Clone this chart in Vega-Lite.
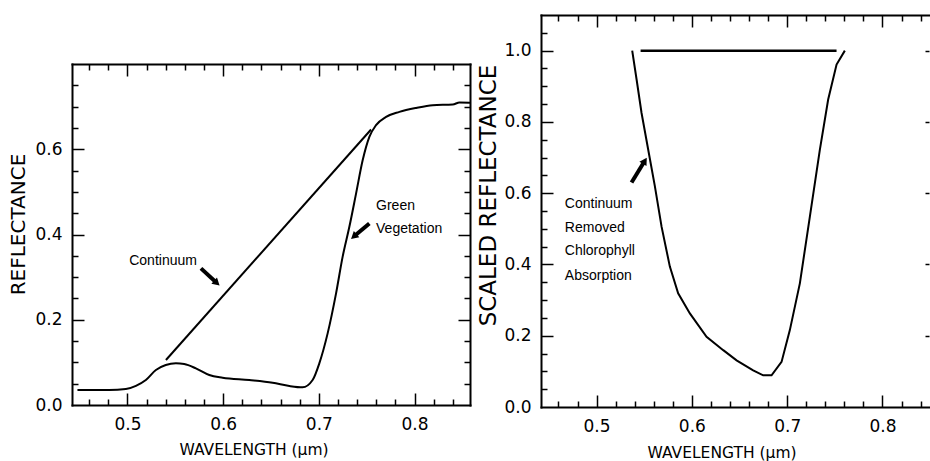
{
  "$schema": "https://vega.github.io/schema/vega-lite/v6.json",
  "background": "white",
  "padding": {"left": 8, "top": 14, "right": 0, "bottom": 0},
  "spacing": 3,
  "datasets": {
    "veg": [
      {"w":0.4477,"r":0.035},{"w":0.4809,"r":0.035},{"w":0.4983,"r":0.0375},{"w":0.5088,"r":0.045},{"w":0.5192,"r":0.0586},{"w":0.5297,"r":0.082},{"w":0.540,"r":0.0938},{"w":0.5506,"r":0.0977},{"w":0.5593,"r":0.096},{"w":0.5715,"r":0.086},{"w":0.5855,"r":0.0703},{"w":0.5994,"r":0.064},{"w":0.6273,"r":0.0586},{"w":0.6517,"r":0.0523},{"w":0.6692,"r":0.0445},{"w":0.683,"r":0.0414},{"w":0.6935,"r":0.0586},{"w":0.7005,"r":0.0977},{"w":0.7092,"r":0.168},{"w":0.718,"r":0.262},{"w":0.7249,"r":0.348},{"w":0.7319,"r":0.418},{"w":0.7389,"r":0.496},{"w":0.7458,"r":0.574},{"w":0.7528,"r":0.629},{"w":0.7598,"r":0.6565},{"w":0.7703,"r":0.676},{"w":0.7842,"r":0.6877},{"w":0.8017,"r":0.697},{"w":0.819,"r":0.7034},{"w":0.840,"r":0.705},{"w":0.847,"r":0.7097},{"w":0.858,"r":0.709}
    ],
    "cont": [{"w":0.5402,"r":0.1055},{"w":0.7546,"r":0.6464}],
    "leftText": [
      {"w":0.5018,"r":0.338,"t":"Continuum"},
      {"w":0.7598,"r":0.4666,"t":"Green"},
      {"w":0.7598,"r":0.4127,"t":"Vegetation"}
    ],
    "leftArrows": [
      {"w":0.5768,"r":0.3205,"w2":0.5925,"r2":0.288},
      {"w":0.7528,"r":0.426,"w2":0.7375,"r2":0.397}
    ],
    "leftHead1": [{"w":0.5925,"r":0.288}],
    "leftHead2": [{"w":0.7375,"r":0.397}],
    "abs": [
      {"w":0.5374,"r":1.0},{"w":0.542,"r":0.919},{"w":0.5472,"r":0.825},{"w":0.5542,"r":0.722},{"w":0.5612,"r":0.619},{"w":0.5682,"r":0.506},{"w":0.5769,"r":0.394},{"w":0.5856,"r":0.319},{"w":0.5979,"r":0.2627},{"w":0.6154,"r":0.197},{"w":0.6329,"r":0.1595},{"w":0.6469,"r":0.131},{"w":0.6643,"r":0.103},{"w":0.6748,"r":0.089},{"w":0.6836,"r":0.089},{"w":0.6941,"r":0.1266},{"w":0.7028,"r":0.2158},{"w":0.7133,"r":0.347},{"w":0.7238,"r":0.5345},{"w":0.7343,"r":0.722},{"w":0.743,"r":0.8627},{"w":0.7518,"r":0.961},{"w":0.7605,"r":1.0}
    ],
    "cont2": [{"w":0.5462,"r":1.0},{"w":0.7518,"r":1.0}],
    "rightText": [
      {"w":0.4667,"r":0.570,"t":"Continuum"},
      {"w":0.4667,"r":0.501,"t":"Removed"},
      {"w":0.4667,"r":0.4366,"t":"Chlorophyll"},
      {"w":0.4667,"r":0.369,"t":"Absorption"}
    ],
    "rightArrow": [{"w":0.5367,"r":0.630,"w2":0.5500,"r2":0.688}],
    "rightHead": [{"w":0.5500,"r":0.688}]
  },
  "config": {
    "view": {"stroke": null},
    "axis": {
      "grid": false,
      "domainColor": "black",
      "domainWidth": 2,
      "domainCap": "square",
      "tickColor": "black",
      "tickWidth": 1.5,
      "labelColor": "black",
      "labelFont": "DejaVu Sans",
      "labelFontSize": 17,
      "titleColor": "black",
      "titleFont": "DejaVu Sans",
      "titleFontWeight": "normal"
    }
  },
  "hconcat": [
    {
      "spacing": 0,
      "vconcat": [
        {
          "width": 398,
          "height": 48,
          "data": {"values": []},
          "mark": "point"
        },
        {
          "width": 398,
          "height": 341,
          "resolve": {"axis": {"x": "independent", "y": "independent"}},
          "layer": [
            {
              "data": {"name": "veg"},
              "mark": {"type": "line", "color": "black", "strokeWidth": 2, "interpolate": "monotone"},
              "encoding": {
                "x": {"field": "w", "type": "quantitative", "scale": {"domain": [0.442, 0.858], "nice": false, "zero": false},
                  "axis": {"orient": "bottom", "values": [0.5, 0.6, 0.7, 0.8], "format": ".1f", "ticks": false, "domain": true, "labelPadding": 11,
                    "title": "WAVELENGTH (μm)", "titleX": 181.5, "titleY": 37, "titleAlign": "center", "titleBaseline": "top", "titleFontSize": 15.5}},
                "y": {"field": "r", "type": "quantitative", "scale": {"domain": [0, 0.8], "nice": false, "zero": false},
                  "axis": {"orient": "left", "values": [0, 0.2, 0.4, 0.6], "format": ".1f", "ticks": false, "domain": true, "labelPadding": 10,
                    "title": "REFLECTANCE", "titleX": -54, "titleY": 160, "titleAngle": -90, "titleAlign": "center", "titleBaseline": "middle", "titleFontSize": 20}}
              }
            },
            {
              "data": {"name": "cont"},
              "mark": {"type": "line", "color": "black", "strokeWidth": 2},
              "encoding": {
                "x": {"field": "w", "type": "quantitative", "scale": {"domain": [0.442, 0.858], "nice": false, "zero": false},
                  "axis": {"orient": "bottom", "values": [0.5, 0.6, 0.7, 0.8], "tickSize": -12, "labels": false, "domain": false, "title": null}},
                "y": {"field": "r", "type": "quantitative", "scale": {"domain": [0, 0.8], "nice": false, "zero": false},
                  "axis": {"orient": "left", "values": [0.2, 0.4, 0.6], "tickSize": -12, "labels": false, "domain": false, "title": null}}
              }
            },
            {
              "data": {"name": "leftText"},
              "mark": {"type": "text", "align": "left", "baseline": "middle", "font": "Liberation Sans", "fontSize": 14, "color": "black"},
              "encoding": {
                "x": {"field": "w", "type": "quantitative", "scale": {"domain": [0.442, 0.858], "nice": false, "zero": false},
                  "axis": {"orient": "bottom", "values": [0.46,0.48,0.52,0.54,0.56,0.58,0.62,0.64,0.66,0.68,0.72,0.74,0.76,0.78,0.82,0.84], "tickSize": -6, "labels": false, "domain": false, "title": null}},
                "y": {"field": "r", "type": "quantitative", "scale": {"domain": [0, 0.8], "nice": false, "zero": false},
                  "axis": {"orient": "left", "values": [0.05,0.1,0.15,0.25,0.3,0.35,0.45,0.5,0.55,0.65,0.7,0.75], "tickSize": -6, "labels": false, "domain": false, "title": null}},
                "text": {"field": "t"}
              }
            },
            {
              "data": {"name": "leftArrows"},
              "mark": {"type": "rule", "color": "black", "strokeWidth": 4},
              "encoding": {
                "x": {"field": "w", "type": "quantitative", "scale": {"domain": [0.442, 0.858], "nice": false, "zero": false},
                  "axis": {"orient": "top", "values": [0.5, 0.6, 0.7, 0.8], "tickSize": -12, "labels": false, "domain": true, "title": null}},
                "y": {"field": "r", "type": "quantitative", "scale": {"domain": [0, 0.8], "nice": false, "zero": false},
                  "axis": {"orient": "right", "values": [0.2, 0.4, 0.6], "tickSize": -12, "labels": false, "domain": true, "title": null}},
                "x2": {"field": "w2"},
                "y2": {"field": "r2"}
              }
            },
            {
              "data": {"name": "leftHead1"},
              "mark": {"type": "point", "shape": "triangle", "filled": true, "color": "black", "opacity": 1, "size": 70, "angle": 132},
              "encoding": {
                "x": {"field": "w", "type": "quantitative", "scale": {"domain": [0.442, 0.858], "nice": false, "zero": false},
                  "axis": {"orient": "top", "values": [0.46,0.48,0.52,0.54,0.56,0.58,0.62,0.64,0.66,0.68,0.72,0.74,0.76,0.78,0.82,0.84], "tickSize": -6, "labels": false, "domain": false, "title": null}},
                "y": {"field": "r", "type": "quantitative", "scale": {"domain": [0, 0.8], "nice": false, "zero": false},
                  "axis": {"orient": "right", "values": [0.05,0.1,0.15,0.25,0.3,0.35,0.45,0.5,0.55,0.65,0.7,0.75], "tickSize": -6, "labels": false, "domain": false, "title": null}}
              }
            },
            {
              "data": {"name": "leftHead2"},
              "mark": {"type": "point", "shape": "triangle", "filled": true, "color": "black", "opacity": 1, "size": 70, "angle": 229},
              "encoding": {
                "x": {"field": "w", "type": "quantitative", "scale": {"domain": [0.442, 0.858], "nice": false, "zero": false}, "axis": null},
                "y": {"field": "r", "type": "quantitative", "scale": {"domain": [0, 0.8], "nice": false, "zero": false}, "axis": null}
              }
            }
          ]
        }
      ]
    },
    {
      "width": 388,
      "height": 392,
      "resolve": {"axis": {"x": "independent", "y": "independent"}},
      "layer": [
        {
          "data": {"name": "abs"},
          "mark": {"type": "line", "color": "black", "strokeWidth": 2},
          "encoding": {
            "x": {"field": "w", "type": "quantitative", "scale": {"domain": [0.4417, 0.8488], "nice": false, "zero": false},
              "axis": {"orient": "bottom", "values": [0.5, 0.6, 0.7, 0.8], "format": ".1f", "ticks": false, "domain": true, "labelPadding": 11,
                "title": "WAVELENGTH (μm)", "titleX": 180.5, "titleY": 38, "titleAlign": "center", "titleBaseline": "top", "titleFontSize": 15.5}},
            "y": {"field": "r", "type": "quantitative", "scale": {"domain": [0, 1.1], "nice": false, "zero": false},
              "axis": {"orient": "left", "values": [0, 0.2, 0.4, 0.6, 0.8, 1.0], "format": ".1f", "ticks": false, "domain": true, "labelPadding": 10,
                "title": "SCALED REFLECTANCE", "titleX": -52.5, "titleY": 180, "titleAngle": -90, "titleAlign": "center", "titleBaseline": "middle", "titleFontSize": 23}}
          }
        },
        {
          "data": {"name": "cont2"},
          "mark": {"type": "line", "color": "black", "strokeWidth": 2.5},
          "encoding": {
            "x": {"field": "w", "type": "quantitative", "scale": {"domain": [0.4417, 0.8488], "nice": false, "zero": false},
              "axis": {"orient": "bottom", "values": [0.5, 0.6, 0.7, 0.8], "tickSize": -12, "labels": false, "domain": false, "title": null}},
            "y": {"field": "r", "type": "quantitative", "scale": {"domain": [0, 1.1], "nice": false, "zero": false},
              "axis": {"orient": "left", "values": [0.2, 0.4, 0.6, 0.8, 1.0], "tickSize": -12, "labels": false, "domain": false, "title": null}}
          }
        },
        {
          "data": {"name": "rightText"},
          "mark": {"type": "text", "align": "left", "baseline": "middle", "font": "Liberation Sans", "fontSize": 14, "color": "black"},
          "encoding": {
            "x": {"field": "w", "type": "quantitative", "scale": {"domain": [0.4417, 0.8488], "nice": false, "zero": false},
              "axis": {"orient": "bottom", "values": [0.46,0.48,0.52,0.54,0.56,0.58,0.62,0.64,0.66,0.68,0.72,0.74,0.76,0.78,0.82,0.84], "tickSize": -6, "labels": false, "domain": false, "title": null}},
            "y": {"field": "r", "type": "quantitative", "scale": {"domain": [0, 1.1], "nice": false, "zero": false},
              "axis": {"orient": "left", "values": [0.05,0.1,0.15,0.25,0.3,0.35,0.45,0.5,0.55,0.65,0.7,0.75,0.85,0.9,0.95,1.05], "tickSize": -6, "labels": false, "domain": false, "title": null}},
            "text": {"field": "t"}
          }
        },
        {
          "data": {"name": "rightArrow"},
          "mark": {"type": "rule", "color": "black", "strokeWidth": 4},
          "encoding": {
            "x": {"field": "w", "type": "quantitative", "scale": {"domain": [0.4417, 0.8488], "nice": false, "zero": false},
              "axis": {"orient": "top", "values": [0.5, 0.6, 0.7, 0.8], "tickSize": -12, "labels": false, "domain": true, "title": null}},
            "y": {"field": "r", "type": "quantitative", "scale": {"domain": [0, 1.1], "nice": false, "zero": false},
              "axis": {"orient": "right", "values": [0.2, 0.4, 0.6, 0.8, 1.0], "tickSize": -4, "labels": false, "domain": false, "title": null}},
            "x2": {"field": "w2"},
            "y2": {"field": "r2"}
          }
        },
        {
          "data": {"name": "rightHead"},
          "mark": {"type": "point", "shape": "triangle", "filled": true, "color": "black", "opacity": 1, "size": 70, "angle": 32},
          "encoding": {
            "x": {"field": "w", "type": "quantitative", "scale": {"domain": [0.4417, 0.8488], "nice": false, "zero": false},
              "axis": {"orient": "top", "values": [0.46,0.48,0.52,0.54,0.56,0.58,0.62,0.64,0.66,0.68,0.72,0.74,0.76,0.78,0.82,0.84], "tickSize": -6, "labels": false, "domain": false, "title": null}},
            "y": {"field": "r", "type": "quantitative", "scale": {"domain": [0, 1.1], "nice": false, "zero": false}, "axis": null}
          }
        }
      ]
    }
  ]
}
